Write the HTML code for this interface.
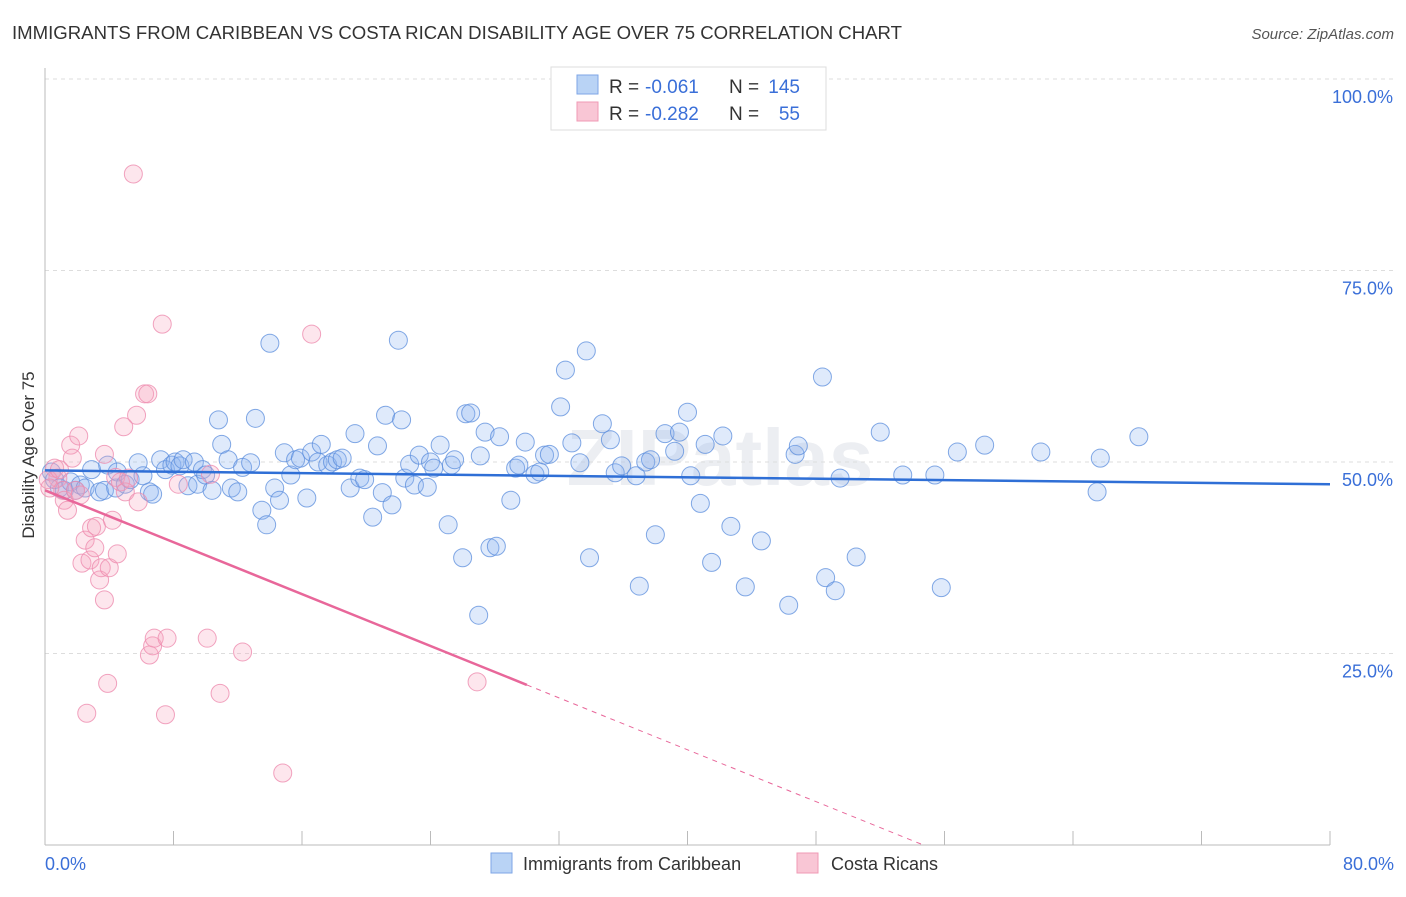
<!DOCTYPE html>
<html><head><meta charset="utf-8"><style>
body{margin:0;background:#fff;font-family:"Liberation Sans",sans-serif}
svg text{font-family:"Liberation Sans",sans-serif}
</style></head><body>
<svg id="chart" width="1406" height="892" xmlns="http://www.w3.org/2000/svg">
<text x="12" y="39" font-size="18" fill="#333" textLength="890" lengthAdjust="spacingAndGlyphs">IMMIGRANTS FROM CARIBBEAN VS COSTA RICAN DISABILITY AGE OVER 75 CORRELATION CHART</text>
<text x="1394" y="39" font-size="15" fill="#555" font-style="italic" text-anchor="end">Source: ZipAtlas.com</text>
<text x="720" y="485" font-size="80" fill="#eceef2" text-anchor="middle" font-weight="bold">ZIPatlas</text>
<g id="grid"></g><g id="axes"></g><g id="pts"></g><g id="trends"></g>
<text transform="translate(34,455) rotate(-90)" font-size="17" fill="#333" text-anchor="middle">Disability Age Over 75</text>
<text x="45" y="870" font-size="18" fill="#3a6fd8">0.0%</text>
<text x="1394" y="870" font-size="18" fill="#3a6fd8" text-anchor="end">80.0%</text>
<g>
<rect x="551" y="67" width="275" height="63" fill="#fff" stroke="#ddd"/>
<rect x="577" y="75" width="21" height="19" fill="#b9d3f5" stroke="#7ea6e6"/>
<rect x="577" y="102" width="21" height="19" fill="#f9c6d5" stroke="#f09ab5"/>
<text x="609" y="93" font-size="19" fill="#333">R =</text>
<text x="645" y="93" font-size="19" fill="#3a6fd8">-0.061</text>
<text x="729" y="93" font-size="19" fill="#333">N =</text>
<text x="800" y="93" font-size="19" fill="#3a6fd8" text-anchor="end">145</text>
<text x="609" y="120" font-size="19" fill="#333">R =</text>
<text x="645" y="120" font-size="19" fill="#3a6fd8">-0.282</text>
<text x="729" y="120" font-size="19" fill="#333">N =</text>
<text x="800" y="120" font-size="19" fill="#3a6fd8" text-anchor="end">55</text>
</g>
<g>
<rect x="491" y="853" width="21" height="20" fill="#b9d3f5" stroke="#7ea6e6"/>
<text x="523" y="870" font-size="18" fill="#333">Immigrants from Caribbean</text>
<rect x="797" y="853" width="21" height="20" fill="#f9c6d5" stroke="#f09ab5"/>
<text x="831" y="870" font-size="18" fill="#333">Costa Ricans</text>
</g>
</svg>
<script>
const yTicks=[25,50,75,100];
const xTicks=[0,8,16,24,32,40,48,56,64,72,80];
const blueX=[0.4,0.6,0.9,1.2,1.6,1.9,2.2,2.5,2.9,3.4,3.7,3.9,4.4,4.5,5.0,5.3,5.8,6.1,6.5,6.7,7.2,7.5,7.9,8.1,8.4,8.6,8.9,9.3,9.5,9.8,10.0,10.4,10.8,11.0,11.4,11.6,12.0,12.3,12.8,13.1,13.5,13.8,14.0,14.3,14.6,14.9,15.3,15.6,15.9,16.3,16.6,17.0,17.2,17.6,17.9,18.2,18.5,19.0,19.3,19.6,19.9,20.4,20.7,21.0,21.2,21.6,22.0,22.2,22.4,22.7,23.0,23.3,23.8,24.0,24.2,24.6,25.1,25.3,25.5,26.0,26.2,26.5,27.0,27.1,27.4,27.7,28.1,28.3,29.0,29.3,29.5,29.9,30.5,30.8,31.1,31.4,32.1,32.4,32.8,33.3,33.7,33.9,34.7,35.2,35.5,35.9,36.8,37.0,37.4,37.7,38.0,38.6,39.2,39.5,40.2,40.0,40.8,41.1,41.5,42.2,42.7,43.6,44.6,46.3,46.7,46.9,48.4,48.6,49.2,49.5,50.5,52.0,53.4,55.4,55.8,56.8,58.5,62.0,65.5,65.7,68.1];
const blueY=[48.7,47.7,46.6,46.3,47.4,46.3,47.0,46.6,49.0,46.1,46.3,49.6,46.6,48.7,47.1,47.7,49.9,48.2,46.1,45.8,50.3,49.0,49.6,50.0,49.5,50.3,46.9,50.0,47.1,49.0,48.3,46.3,55.5,52.3,50.3,46.6,46.1,49.3,49.9,55.7,43.7,41.8,65.5,46.6,45.0,51.2,48.3,50.3,50.5,45.3,51.3,50.0,52.3,49.6,50.0,50.3,50.5,46.6,53.7,47.9,47.7,42.8,52.1,46.0,56.1,44.4,65.9,55.5,47.9,49.7,47.0,50.9,46.7,50.0,49.2,52.2,41.8,49.6,50.3,37.5,56.3,56.4,30.0,50.8,53.9,38.8,39.0,53.3,45.0,49.2,49.6,52.6,48.4,48.7,50.9,51.0,57.2,62.0,52.5,49.9,64.5,37.5,55.0,52.9,48.6,49.5,48.2,33.8,50.0,50.3,40.5,53.7,51.4,53.9,48.2,56.5,44.6,52.3,36.9,53.4,41.6,33.7,39.7,31.3,51.0,52.1,61.1,34.9,33.2,47.9,37.6,53.9,48.3,48.3,33.6,51.3,52.2,51.3,46.1,50.5,53.3];
const pinkX=[0.6,0.8,1.1,1.2,1.4,1.6,1.7,1.9,2.1,2.2,2.3,2.5,2.6,2.8,2.9,3.1,3.2,3.4,3.5,3.7,3.7,3.9,4.0,4.2,4.4,4.5,4.7,4.9,5.0,5.2,5.5,5.7,5.8,6.2,6.4,6.5,6.7,6.8,7.3,7.5,7.6,8.3,10.1,10.3,10.9,12.3,14.8,16.6,26.9,0.2,0.3,0.9];
const pinkY=[49.2,47.9,46.3,45.0,43.7,52.2,50.5,46.3,53.4,45.7,36.8,39.8,17.2,37.2,41.4,38.8,41.6,34.6,36.2,51.0,32.0,21.1,36.2,42.4,48.0,38.0,47.4,54.6,46.1,47.9,87.6,56.1,44.8,58.9,58.9,24.8,26.0,27.0,68.0,17.0,27.0,47.1,27.0,48.4,19.8,25.2,9.4,66.7,21.3,47.7,46.6,49.0];
const blueTrend=[48.9,47.1];
const pinkTrend=[46.3,20.9];
const NS='http://www.w3.org/2000/svg';
const X=v=>45+v/80*1285, Y=v=>845-v/100*766;
function mk(tag,attrs,parent){const e=document.createElementNS(NS,tag);for(const k in attrs)e.setAttribute(k,attrs[k]);document.getElementById(parent).appendChild(e);return e;}
yTicks.forEach(t=>{
 const l=mk('line',{x1:45,x2:1394,y1:Y(t),y2:Y(t),stroke:'#ddd','stroke-dasharray':'4,4'},'grid');
 
 
 const tx=mk('text',{x:1393,y:Y(t)+24,'font-size':18,fill:'#3a6fd8','text-anchor':'end'},'grid');tx.textContent=t.toFixed(1)+'%';
 
 
});
const ax=mk('line',{x1:45,x2:1330,y1:845,y2:845,stroke:'#bbb'},'axes');


const ay=mk('line',{x1:45,x2:45,y1:68,y2:845,stroke:'#bbb'},'axes');


xTicks.forEach(t=>{const l=mk('line',{x1:X(t),x2:X(t),y1:831,y2:845,stroke:'#bbb'},'axes');
 
 });
blueX.forEach((x,i)=>{const c=mk('circle',{cx:X(x),cy:Y(blueY[i]),r:9,fill:'rgba(140,180,240,0.28)',stroke:'rgba(90,140,220,0.75)','stroke-width':1},'pts');
 
 });
pinkX.forEach((x,i)=>{const c=mk('circle',{cx:X(x),cy:Y(pinkY[i]),r:9,fill:'rgba(248,165,190,0.28)',stroke:'rgba(238,140,175,0.8)','stroke-width':1},'pts');
 
 });
const bt=mk('line',{x1:X(0),y1:Y(blueTrend[0]),x2:X(80),y2:Y(blueTrend[1]),stroke:'#2f6fd6','stroke-width':2.5},'trends');


const pv=x=>pinkTrend[0]-(pinkTrend[0]-pinkTrend[1])/30*x;
const pt=mk('line',{x1:X(0),y1:Y(pv(0)),x2:X(30),y2:Y(pv(30)),stroke:'#e8679a','stroke-width':2.5},'trends');


const xe=pinkTrend[0]/((pinkTrend[0]-pinkTrend[1])/30);
const pd=mk('line',{x1:X(30),y1:Y(pv(30)),x2:X(xe),y2:Y(0),stroke:'#e8679a','stroke-width':1,'stroke-dasharray':'5,5'},'trends');


</script>
</body></html>
